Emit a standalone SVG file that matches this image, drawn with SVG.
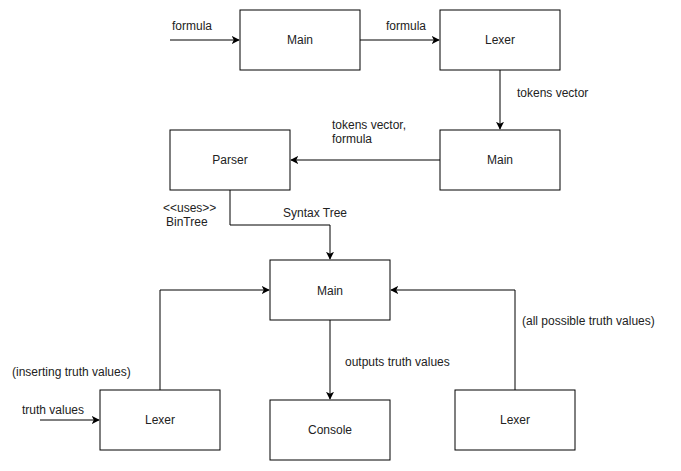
<svg xmlns="http://www.w3.org/2000/svg" width="681" height="471" viewBox="0 0 681 471">
<style>
.box{fill:#fff;stroke:#000;stroke-width:1}
.t{font-family:"Liberation Sans",Arial,sans-serif;font-size:12px;fill:#222}
.c{text-anchor:middle}
.e{fill:none;stroke:#000;stroke-width:1}
</style>
<defs>
<marker id="a" viewBox="0 0 10 10" refX="9" refY="5" markerWidth="8" markerHeight="8" markerUnits="userSpaceOnUse" orient="auto">
<path d="M0,0 L10,5 L0,10 L2.5,5 Z" fill="#000"/>
</marker>
</defs>
<rect width="681" height="471" fill="#fff"/>
<g id="connectors">
<path class="e" d="M170,40 H239" marker-end="url(#a)"/>
<path class="e" d="M360,40 H439" marker-end="url(#a)"/>
<path class="e" d="M500,70 V129" marker-end="url(#a)"/>
<path class="e" d="M440,160 H291" marker-end="url(#a)"/>
<path class="e" d="M230,190 V225 H330 V259" marker-end="url(#a)"/>
<path class="e" d="M160,390 V290 H269" marker-end="url(#a)"/>
<path class="e" d="M515,390 V290 H391" marker-end="url(#a)"/>
<path class="e" d="M330,320 V399" marker-end="url(#a)"/>
<path class="e" d="M40,420 H99" marker-end="url(#a)"/>
<text class="t" x="172" y="30">formula</text>
<text class="t" x="386" y="30">formula</text>
<text class="t" x="517" y="97">tokens vector</text>
<text class="t" x="332" y="129">tokens vector,</text>
<text class="t" x="332" y="143">formula</text>
<text class="t" x="163" y="212">&lt;&lt;uses&gt;&gt;</text>
<text class="t" x="166" y="226">BinTree</text>
<text class="t" x="283" y="217">Syntax Tree</text>
<text class="t" x="345" y="366">outputs truth values</text>
<text class="t" x="12" y="376">(inserting truth values)</text>
<text class="t" x="522" y="325">(all possible truth values)</text>
<text class="t" x="22" y="414">truth values</text>
</g>
<g id="main1"><rect class="box" x="240" y="10" width="120" height="60"/><text class="t c" x="300" y="44">Main</text></g>
<g id="lexer1"><rect class="box" x="440" y="10" width="120" height="60"/><text class="t c" x="500" y="44">Lexer</text></g>
<g id="main2"><rect class="box" x="440" y="130" width="120" height="60"/><text class="t c" x="500" y="164">Main</text></g>
<g id="parser"><rect class="box" x="170" y="130" width="120" height="60"/><text class="t c" x="230" y="164">Parser</text></g>
<g id="main3"><rect class="box" x="270" y="260" width="120" height="60"/><text class="t c" x="330" y="295">Main</text></g>
<g id="lexer2"><rect class="box" x="100" y="390" width="120" height="60"/><text class="t c" x="160" y="424">Lexer</text></g>
<g id="console"><rect class="box" x="270" y="400" width="120" height="60"/><text class="t c" x="330" y="434">Console</text></g>
<g id="lexer3"><rect class="box" x="455" y="390" width="120" height="60"/><text class="t c" x="515" y="424">Lexer</text></g>
</svg>
